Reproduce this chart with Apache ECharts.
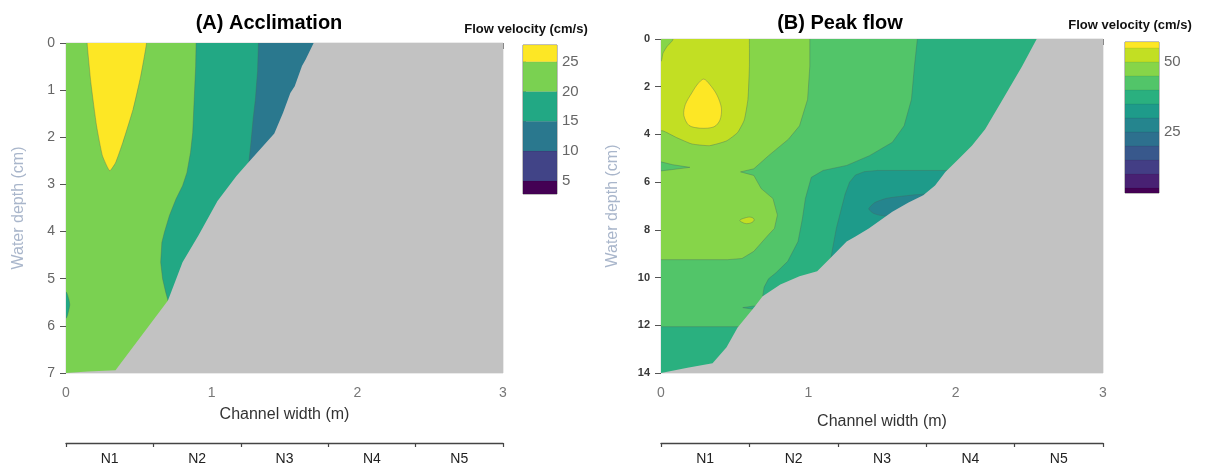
<!DOCTYPE html>
<html>
<head>
<meta charset="utf-8">
<script src="https://cdn.jsdelivr.net/npm/echarts@6/dist/echarts.min.js"></script>
<style>
  html, body { margin: 0; padding: 0; background: #fff; }
  #chart { width: 1205px; height: 466px; }
</style>
</head>
<body>
<div id="chart"></div>
<script>
// ---- Flow velocity classes (cm/s) ----
const accLevels = [2.8, 5, 10, 15, 20, 25, 27.8];
const accColors = ['#440154', '#414487', '#2a788e', '#22a884', '#7ad151', '#fde725'];
const accLegendTicks = [5, 10, 15, 20, 25];

const peakLevels = [3.2, 5, 10, 15, 20, 25, 30, 35, 40, 45, 50, 55, 57.1];
const peakColors = ['#440154', '#482173', '#433e85', '#38588c', '#2d708e', '#25858e',
                    '#1e9b8a', '#2ab07f', '#52c569', '#86d549', '#c2df23', '#fde725'];
const peakLegendTicks = [25, 50];

// ---- Axes ----
const widthTicks = [0, 1, 2, 3];           // channel width (m)
const accDepthMax = 7;                     // water depth (cm)
const peakDepthMax = 14;
const reaches = ['N1', 'N2', 'N3', 'N4', 'N5'];

// ---- (A) Acclimation: contour bands, points are [width m, depth cm] ----
const accBank = [[1.70, 0], [1.645, 0.35], [1.62, 0.49], [1.57, 0.92], [1.54, 1.06], [1.49, 1.48],
                 [1.43, 1.92], [1.25, 2.54], [1.17, 2.82], [1.04, 3.35], [0.91, 4.08], [0.80, 4.65],
                 [0.70, 5.46], [0.34, 6.94], [0.15, 6.97], [0, 7.0]];
const accZone20 = [[-0.1, -0.3], [3.1, -0.3], [3.1, 7.3], [-0.1, 7.3]];
const accZone15 = [[0.895, -0.3], [2.0, -0.3], [2.0, 6.0], [0.75, 6.0], [0.70, 5.46], [0.684, 5.28],
                   [0.663, 5.0], [0.65, 4.65], [0.658, 4.23], [0.676, 4.01], [0.71, 3.66], [0.755, 3.31],
                   [0.80, 3.03], [0.83, 2.75], [0.855, 2.32], [0.87, 1.9], [0.88, 1.2], [0.89, 0.5]];
const accZone10 = [[1.324, -0.3], [2.0, -0.3], [2.0, 2.8], [1.26, 2.58], [1.255, 2.54], [1.27, 2.1],
                   [1.285, 1.6], [1.30, 1.2], [1.315, 0.6]];
const accZone25 = [[0.145, -0.3], [0.553, -0.3], [0.553, 0], [0.513, 0.70], [0.46, 1.41], [0.39, 2.11],
                   [0.34, 2.54], [0.30, 2.71], [0.25, 2.39], [0.21, 1.76], [0.171, 0.85], [0.145, 0]];
const accZone15b = [[-0.1, 5.28], [0.0, 5.28], [0.018, 5.42], [0.026, 5.55], [0.018, 5.68], [0.0, 5.84], [-0.1, 5.84]];

// ---- (B) Peak flow ----
const peakBank = [[2.55, 0], [2.45, 1.15], [2.32, 2.53], [2.20, 3.78], [2.11, 4.47], [2.02, 5.03],
                  [1.93, 5.58], [1.86, 6.14], [1.78, 6.55], [1.68, 6.85], [1.57, 7.24], [1.41, 7.94],
                  [1.32, 8.28], [1.26, 8.49], [1.15, 9.18], [1.06, 9.74], [0.94, 9.94], [0.81, 10.29],
                  [0.69, 10.78], [0.63, 11.26], [0.52, 12.09], [0.445, 12.92], [0.35, 13.59],
                  [0.18, 13.78], [0, 14.0]];
const peakZone35 = [[-0.1, -0.5], [3.1, -0.5], [3.1, 14.5], [-0.1, 14.5]];
const peakZone30 = [[2.3, 5.51], [1.68, 5.51], [1.47, 5.51], [1.38, 5.56], [1.32, 5.7], [1.28, 6.0],
                    [1.25, 6.5], [1.23, 6.97], [1.19, 7.94], [1.165, 8.77], [1.15, 9.3], [1.3, 10], [2.3, 10]];
const peakZone25 = [[1.41, 7.12], [1.45, 6.86], [1.53, 6.68], [1.62, 6.6], [1.75, 6.52], [1.95, 6.5],
                    [1.95, 7.6], [1.56, 7.45], [1.48, 7.38], [1.44, 7.3]];
const peakZone40 = [[1.01, -0.5], [1.74, -0.5], [1.74, 0], [1.72, 1.15], [1.70, 2.53], [1.65, 3.64],
                    [1.57, 4.33], [1.415, 4.89], [1.26, 5.3], [1.10, 5.51], [1.02, 5.8], [0.98, 6.69],
                    [0.96, 7.52], [0.93, 8.49], [0.86, 9.32], [0.78, 9.8], [0.73, 10.05], [0.70, 10.4],
                    [0.69, 10.78], [0.78, 10.9], [0.72, 11.15], [0.62, 11.2], [0.555, 11.26], [0.62, 11.32],
                    [0.66, 11.5], [0.62, 12.06], [-0.1, 12.06], [-0.1, -0.5]];
const peakZone45 = [[-0.1, -0.5], [1.01, -0.5], [1.01, 0], [1.01, 1.15], [0.995, 2.53], [0.94, 3.64],
                    [0.865, 4.2], [0.73, 4.89], [0.63, 5.44], [0.54, 5.57], [0.63, 5.72], [0.68, 6.27],
                    [0.76, 6.69], [0.79, 7.38], [0.77, 7.94], [0.73, 8.2], [0.63, 8.9], [0.55, 9.2],
                    [0.45, 9.25], [-0.1, 9.25], [-0.1, 5.6], [0.08, 5.47], [0.196, 5.38], [0.08, 5.27], [-0.1, 5.0]];
const peakZone50 = [[0.09, -0.5], [0.60, -0.5], [0.60, 0], [0.60, 1.15], [0.59, 2.53], [0.565, 3.4],
                    [0.52, 3.92], [0.445, 4.27], [0.33, 4.47], [0.21, 4.4], [0.105, 4.13], [0.013, 3.85],
                    [-0.1, 3.8], [-0.1, 0.94], [0.0, 0.94], [0.013, 0.6], [0.04, 0.32], [0.08, 0.04]];
const peakZone50b = [[0.535, 7.6], [0.57, 7.5], [0.61, 7.47], [0.632, 7.56], [0.62, 7.68], [0.58, 7.74], [0.55, 7.68]];
const peakZone55 = [[0.29, 1.68], [0.33, 1.9], [0.38, 2.35], [0.41, 2.9], [0.40, 3.4], [0.36, 3.68],
                    [0.27, 3.74], [0.19, 3.62], [0.155, 3.2], [0.165, 2.75], [0.21, 2.25], [0.25, 1.88]];

// painting order: lower classes first, dry bank last
const accZones = [
  { band: 4, pts: accZone20, edge: false },
  { band: 3, pts: accZone15, edge: true },
  { band: 2, pts: accZone10, edge: true },
  { band: 5, pts: accZone25, edge: true, smooth: 0.15 },
  { band: 3, pts: accZone15b, edge: true, smooth: 0.2 }
];
const peakZones = [
  { band: 7, pts: peakZone35, edge: false },
  { band: 6, pts: peakZone30, edge: true },
  { band: 5, pts: peakZone25, edge: true, smooth: 0.2 },
  { band: 8, pts: peakZone40, edge: true },
  { band: 9, pts: peakZone45, edge: true },
  { band: 10, pts: peakZone50, edge: true, smooth: 0.15 },
  { band: 10, pts: peakZone50b, edge: true, smooth: 0.4 },
  { band: 11, pts: peakZone55, edge: true, smooth: 0.3 }
];

const FONT = '"Liberation Sans", Arial, sans-serif';
const DRY = '#c2c2c2';
const EDGE = 'rgba(70,100,95,0.45)';

function dryArea(bank, depthMax) {
  return bank.concat([[-0.2, depthMax + 0.5], [3.2, depthMax + 0.5], [3.2, -0.5], [bank[0][0], -0.5]]);
}

function contourSeries(zones, colors, bank, depthMax, xi, yi) {
  const all = zones.concat([{ dry: true, pts: dryArea(bank, depthMax) }]);
  return {
    type: 'custom', xAxisIndex: xi, yAxisIndex: yi, clip: true, silent: true,
    data: all.map((z, i) => [i]),
    renderItem: function (params, api) {
      const z = all[params.dataIndex];
      const points = z.pts.map(p => api.coord(p));
      return {
        type: 'polygon',
        shape: { points: points, smooth: z.smooth || 0 },
        style: {
          fill: z.dry ? DRY : colors[z.band],
          stroke: z.edge ? EDGE : null,
          lineWidth: z.edge ? 0.8 : 0
        }
      };
    }
  };
}

function legendSeries(levels, colors, xi, yi) {
  const bands = colors.map((c, i) => [levels[i], levels[i + 1], i]);
  return {
    type: 'custom', xAxisIndex: xi, yAxisIndex: yi, silent: true,
    data: bands,
    renderItem: function (params, api) {
      const lo = api.value(0), hi = api.value(1), k = api.value(2);
      const a = api.coord([0, lo]);
      const b = api.coord([1, hi]);
      return {
        type: 'rect',
        shape: { x: a[0], y: b[1], width: b[0] - a[0], height: a[1] - b[1] },
        style: { fill: colors[k], stroke: 'rgba(0,0,0,0.10)', lineWidth: 0.6 }
      };
    }
  };
}

function widthAxis(gi, nameGap) {
  return {
    type: 'value', gridIndex: gi, min: widthTicks[0], max: widthTicks[widthTicks.length - 1], interval: 1,
    name: 'Channel width (m)', nameLocation: 'middle', nameGap: nameGap,
    nameTextStyle: { color: '#333', fontSize: 16, fontFamily: FONT },
    axisLine: { show: true, lineStyle: { color: '#a8a8a8', width: 1 } },
    axisTick: { show: true, length: 6, lineStyle: { color: '#888' } },
    axisLabel: { color: '#777', fontSize: 14, fontFamily: FONT, margin: 13 },
    splitLine: { show: false }
  };
}

function reachAxis(gi) {
  return {
    type: 'category', gridIndex: gi, data: reaches, position: 'bottom', offset: 70,
    axisLine: { show: true, lineStyle: { color: '#444', width: 1.4 } },
    axisTick: { show: true, length: 4, lineStyle: { color: '#444', width: 1.2 } },
    axisLabel: { color: '#222', fontSize: 14, fontFamily: FONT, margin: 9 },
    splitLine: { show: false }
  };
}

function depthAxis(gi, max, interval, nameGap, labelStyle) {
  return {
    type: 'value', gridIndex: gi, inverse: true, min: 0, max: max, interval: interval,
    name: 'Water depth (cm)', nameLocation: 'middle', nameGap: nameGap,
    nameTextStyle: { color: '#a9b6cb', fontSize: 16, fontFamily: FONT },
    axisLine: { show: false },
    axisTick: { show: true, length: 6, lineStyle: { color: '#555' } },
    axisLabel: Object.assign({ fontFamily: FONT, margin: 11 }, labelStyle),
    splitLine: { show: false }
  };
}

function legendAxis(gi, min, max, ticks) {
  return {
    type: 'value', gridIndex: gi, min: min, max: max, position: 'right',
    axisLine: { show: false },
    axisTick: { show: true, length: 3, customValues: ticks, lineStyle: { color: '#888' } },
    axisLabel: { show: true, customValues: ticks, color: '#666', fontSize: 15, fontFamily: FONT, margin: 5 },
    splitLine: { show: false }
  };
}

const hiddenX = gi => ({ type: 'value', gridIndex: gi, min: 0, max: 1, show: false });

const chart = echarts.init(document.getElementById('chart'), null, { renderer: 'canvas' });
chart.setOption({
  animation: false,
  backgroundColor: '#fff',
  grid: [
    { left: 66, top: 43, width: 437, height: 333, show: true, backgroundColor: DRY, borderColor: '#d6d6d6', borderWidth: 1 },
    { left: 661, top: 39, width: 442, height: 338, show: true, backgroundColor: DRY, borderColor: '#d6d6d6', borderWidth: 1 },
    { left: 523, top: 45, width: 34, height: 149, show: true, borderColor: '#8a8a8a', borderWidth: 1 },
    { left: 1125, top: 42, width: 34, height: 151, show: true, borderColor: '#8a8a8a', borderWidth: 1 }
  ],
  xAxis: [
    widthAxis(0, 34), reachAxis(0),
    widthAxis(1, 41), reachAxis(1),
    hiddenX(2), hiddenX(3)
  ],
  yAxis: [
    depthAxis(0, accDepthMax, 1, 39, { color: '#666', fontSize: 14 }),
    depthAxis(1, peakDepthMax, 2, 40, { color: '#3a3a3a', fontSize: 11, fontWeight: 'bold' }),
    legendAxis(2, accLevels[0], accLevels[accLevels.length - 1], accLegendTicks),
    legendAxis(3, peakLevels[0], peakLevels[peakLevels.length - 1], peakLegendTicks)
  ],
  graphic: [
    { type: 'text', x: 269, y: 23, style: { text: '(A) Acclimation', font: 'bold 20px ' + FONT, fill: '#000', textAlign: 'center', textVerticalAlign: 'middle' } },
    { type: 'text', x: 840, y: 23, style: { text: '(B) Peak flow', font: 'bold 20px ' + FONT, fill: '#000', textAlign: 'center', textVerticalAlign: 'middle' } },
    { type: 'text', x: 526, y: 29, style: { text: 'Flow velocity (cm/s)', font: 'bold 13px ' + FONT, fill: '#111', textAlign: 'center', textVerticalAlign: 'middle' } },
    { type: 'text', x: 1130, y: 25, style: { text: 'Flow velocity (cm/s)', font: 'bold 13px ' + FONT, fill: '#111', textAlign: 'center', textVerticalAlign: 'middle' } }
  ],
  series: [
    contourSeries(accZones, accColors, accBank, accDepthMax, 0, 0),
    contourSeries(peakZones, peakColors, peakBank, peakDepthMax, 2, 1),
    legendSeries(accLevels, accColors, 4, 2),
    legendSeries(peakLevels, peakColors, 5, 3)
  ]
});
</script>
</body>
</html>
